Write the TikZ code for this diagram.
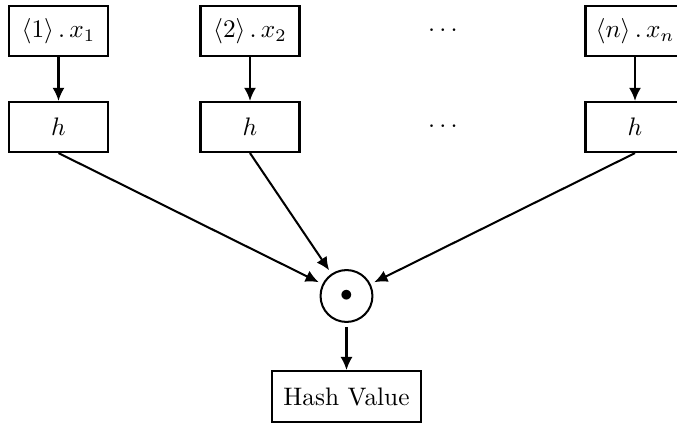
\documentclass[tikz,border=0pt]{standalone}
\usetikzlibrary{arrows.meta}
\begin{document}
\begin{tikzpicture}[x=0.395pt,y=-0.395pt,
  box/.style={draw,thick,minimum width=39.1pt,minimum height=19.8pt,inner sep=1pt},
  hashbox/.style={draw,thick,minimum width=58.5pt,minimum height=20.1pt,inner sep=1pt},
  combo/.style={draw,thick,circle,minimum size=20.5pt,inner sep=0pt,outer sep=2pt},
  arr/.style={thick,-{Latex[length=5.2pt,width=4.8pt]}}]
\useasboundingbox (0,0) rectangle (677,422);
\node[box] (b1) at (58.5,31) {$\langle 1\rangle\,.\,x_1$};
\node[box] (b2) at (250,31) {$\langle 2\rangle\,.\,x_2$};
\node[box] (bn) at (635,31) {$\langle n\rangle\,.\,x_n$};
\node (d1) at (443,31) {$\cdots$};
\node[box] (h1) at (58.5,127) {$h$};
\node[box] (h2) at (250,127) {$h$};
\node[box] (hn) at (635,127) {$h$};
\node (d2) at (443,127) {$\cdots$};
\node[combo] (c) at (346.5,296) {$\bullet$};
\node[hashbox] (hv) at (346.5,396.5) {Hash Value};
\draw[arr] (b1) -- (h1);
\draw[arr] (b2) -- (h2);
\draw[arr] (bn) -- (hn);
\draw[arr] (h1.south) -- (c);
\draw[arr] (h2.south) -- (c);
\draw[arr] (hn.south) -- (c);
\draw[arr] (c) -- (hv);
\end{tikzpicture}
\end{document}
